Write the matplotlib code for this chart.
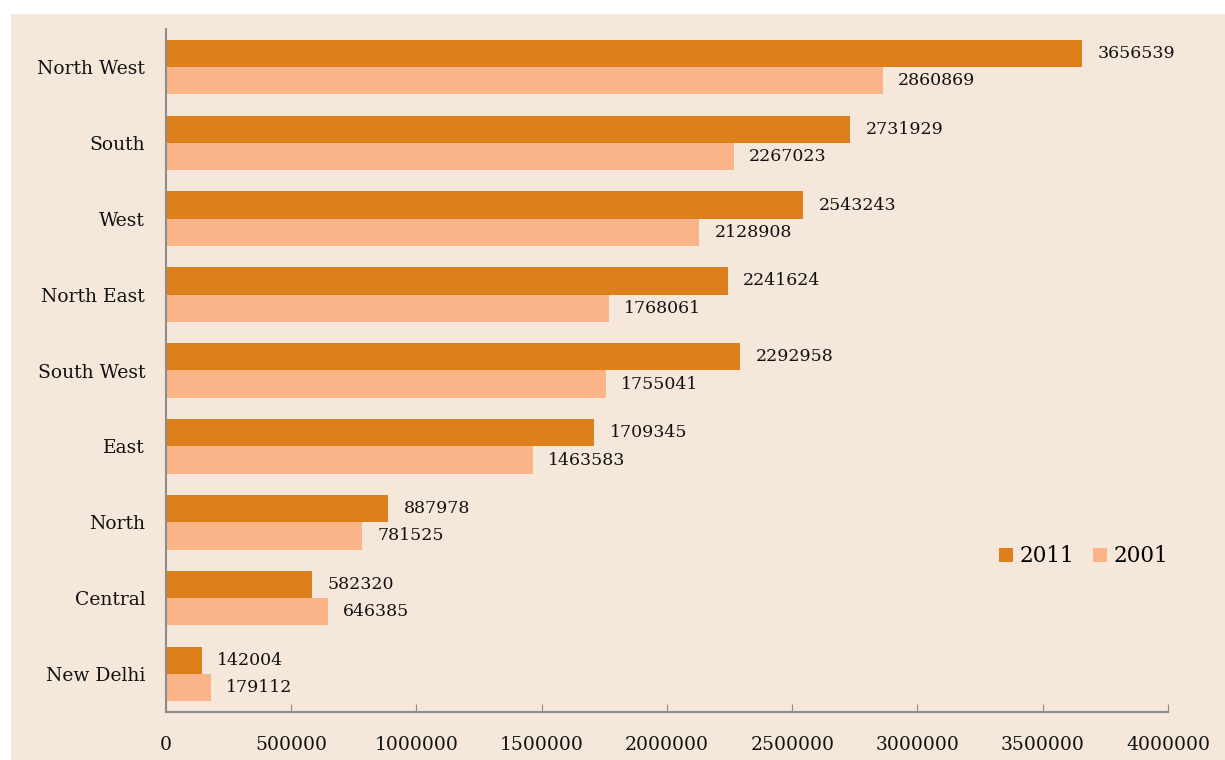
import matplotlib
matplotlib.use("Agg")
import matplotlib.pyplot as plt
import numpy as np
from matplotlib.patches import Rectangle

# data
regions = ["North West", "South", "West", "North East", "South West",
           "East", "North", "Central", "New Delhi"]
pop_2011 = [3656539, 2731929, 2543243, 2241624, 2292958, 1709345, 887978, 582320, 142004]
pop_2001 = [2860869, 2267023, 2128908, 1768061, 1755041, 1463583, 781525, 646385, 179112]
xticks = [0, 500000, 1000000, 1500000, 2000000, 2500000, 3000000, 3500000, 4000000]

plt.rcParams['font.family'] = ['DejaVu Serif']

bg = '#F5E7DA'
c2011 = '#DD801B'
c2001 = '#FBB488'
grey = '#8C8C8C'

fig = plt.figure(figsize=(12.25, 7.6), dpi=100)
fig.patch.set_facecolor('white')
# beige panel behind the chart (white strip at top and left)
fig.patches.append(Rectangle((11/1225, 0), 1, (760-14)/760, transform=fig.transFigure,
                             facecolor=bg, edgecolor='none', zorder=-10))
ax = fig.add_axes([166/1225, 48/760, 1002/1225, 683/760])
ax.set_facecolor(bg)

y = np.arange(len(regions))
h = 0.36
b1 = ax.barh(y - h/2, pop_2011, height=h, color=c2011, label='2011')
b2 = ax.barh(y + h/2, pop_2001, height=h, color=c2001, label='2001')
ax.bar_label(b1, labels=[str(v) for v in pop_2011], padding=11, fontsize=12.5, color='#111111')
ax.bar_label(b2, labels=[str(v) for v in pop_2001], padding=11, fontsize=12.5, color='#111111')

ax.set_ylim(len(regions) - 0.5, -0.5)
ax.set_xlim(0, 4000000)
ax.set_yticks(y)
ax.set_yticklabels(regions, fontsize=13.5, color='#111111')
ax.set_xticks(xticks)
ax.set_xticklabels([str(t) for t in xticks], fontsize=13.5, color='#111111')
ax.tick_params(axis='y', length=0, pad=15)
ax.tick_params(axis='x', direction='in', length=6, color=grey, pad=17)

for s in ['top', 'right']:
    ax.spines[s].set_visible(False)
for s in ['left', 'bottom']:
    ax.spines[s].set_color(grey)
    ax.spines[s].set_linewidth(1.5)

ax.legend(loc='center left', bbox_to_anchor=(0.831, 0.228), frameon=False, fontsize=15.5,
          handlelength=0.65, handleheight=0.65, handletextpad=0.3, ncol=2,
          columnspacing=0.9, borderaxespad=0, borderpad=0)

fig.savefig('out.png', dpi=100, facecolor='white')
